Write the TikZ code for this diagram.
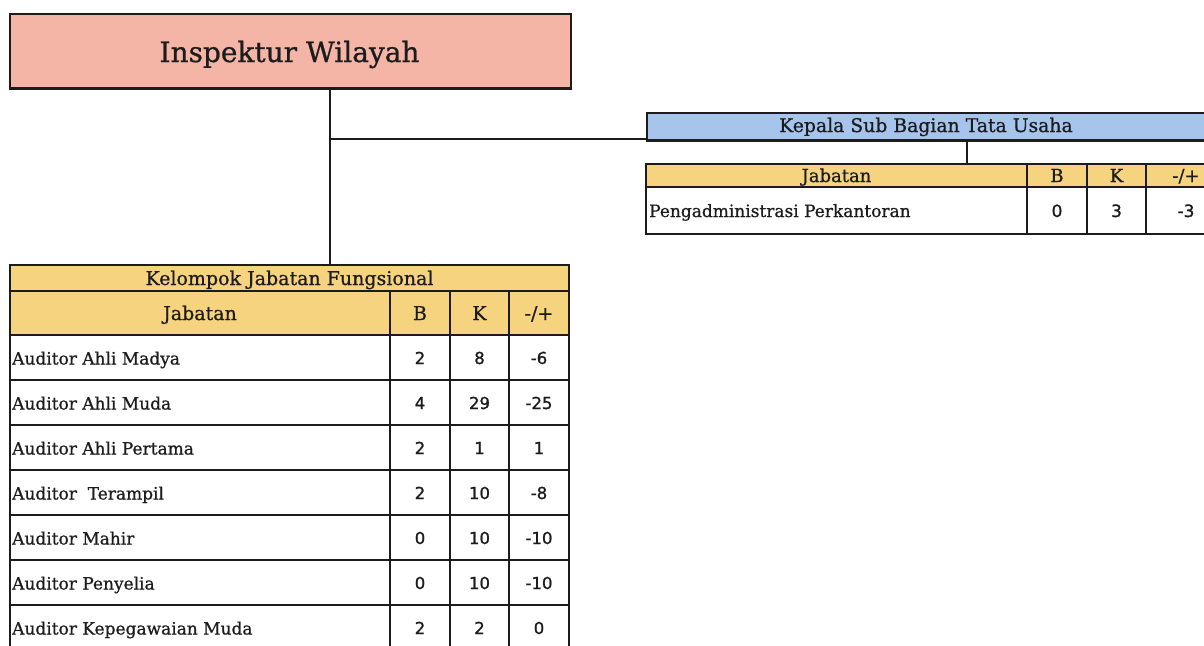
\documentclass[tikz,border=0pt]{standalone}
\usepackage{fontspec}
\setmainfont[FakeBold=0.8]{DejaVu Serif}
\newfontfamily\numfont[FakeBold=1.1]{DejaVu Sans}
\definecolor{salmon}{HTML}{F4B5A7}
\definecolor{skyblue}{HTML}{A6C4EC}
\definecolor{gold}{HTML}{F6D47F}
\definecolor{ink}{HTML}{1C1C1C}
\begin{document}
\begin{tikzpicture}[x=1pt,y=-1pt,
  rule/.style={draw=ink,line width=1.6pt},
  link/.style={draw=ink,line width=1.4pt},
  headbox/.style={rule,inner sep=0pt,anchor=north west},
  cell/.style={inner sep=0pt,text=ink,anchor=base},
  lbl/.style={cell,anchor=base west,font=\fontsize{17}{19}\selectfont},
  num/.style={cell,font=\numfont\fontsize{16.5}{18}\selectfont},
  hdr/.style={cell,font=\fontsize{19}{21}\selectfont},
  khdr/.style={cell,font=\fontsize{18}{20}\selectfont},
  klbl/.style={cell,anchor=base west,font=\fontsize{17}{19}\selectfont},
  knum/.style={cell,font=\numfont\fontsize{17}{19}\selectfont},
]
\useasboundingbox (0,0) rectangle (1204,645);
\clip (0,0) rectangle (1204,645);
\fill[white] (0,0) rectangle (1204,645);

% ---- head of office ----
\node[headbox,fill=salmon,minimum width=561pt,minimum height=74pt] (insp) at (9,13) {};
\draw[ink,line width=2.8pt] (insp.south west) -- (insp.south east);
\node[cell,font=\fontsize{28}{32}\selectfont] (inspt) at (289.5,62) {Inspektur Wilayah};

% ---- administrative sub-division ----
\node[headbox,fill=skyblue,minimum width=580pt,minimum height=27pt] (kasub) at (646,112) {};
\draw[ink,line width=2.6pt] (kasub.south west) -- (kasub.south east);
\node[cell,font=\fontsize{18.8}{21}\selectfont] (kasubt) at (926,132) {Kepala Sub Bagian Tata Usaha};

% table of the sub-division
\fill[gold] (646,164) rectangle (1226,187);
\draw[rule] (646,164) rectangle (1226,234);
\draw[rule] (646,187) -- (1226,187);
\foreach \c in {1027,1087,1146} \draw[rule] (\c,164) -- (\c,234);
\coordinate (ktab) at (967,164);
\node[khdr] (kh1) at (836.5,182) {Jabatan};
\node[khdr] (kh2) at (1057,182) {B};
\node[khdr] (kh3) at (1116.5,182) {K};
\node[khdr] (kh4) at (1186,182) {-/+};
\node[klbl] (kr1) at (649,217) {Pengadministrasi Perkantoran};
\node[knum] (kr2) at (1057,217) {0};
\node[knum] (kr3) at (1116.5,217) {3};
\node[knum] (kr4) at (1186,217) {-3};

% ---- functional positions table ----
\fill[gold] (10,265) rectangle (569,335);
\draw[rule] (10,265) rectangle (569,650);
\draw[rule] (10,291) -- (569,291);
\draw[rule] (10,335) -- (569,335);
\foreach \c in {390,450,509} \draw[rule] (\c,291) -- (\c,650);
\foreach \k in {1,...,6} \draw[rule] (10,335+45*\k) -- (569,335+45*\k);
\coordinate (ftab) at (330,265);
\node[hdr] (fh0) at (289.5,285) {Kelompok Jabatan Fungsional};
\node[hdr] (fh1) at (200,320) {Jabatan};
\node[hdr] (fh2) at (420,320) {B};
\node[hdr] (fh3) at (479.5,320) {K};
\node[hdr] (fh4) at (539,320) {-/+};

\foreach \name/\b/\kk/\d [count=\i] in {
  Auditor Ahli Madya/2/8/-6,
  Auditor Ahli Muda/4/29/-25,
  Auditor Ahli Pertama/2/1/1,
  Auditor\ \ Terampil/2/10/-8,
  Auditor Mahir/0/10/-10,
  Auditor Penyelia/0/10/-10,
  Auditor Kepegawaian Muda/2/2/0} {
  \pgfmathsetmacro\yy{335+45*(\i-0.5)}
  \node[lbl] (fr\i) at (12,\yy+7) {\name};
  \node[num] (fb\i) at (420,\yy+6.5) {\b};
  \node[num] (fk\i) at (479.5,\yy+6.5) {\kk};
  \node[num] (fd\i) at (539,\yy+6.5) {\d};
}

% ---- connectors ----
\coordinate (trunk) at (330,87);
\coordinate (branch) at (330,139);
\coordinate (kdrop) at (967,139);
\draw[link] (trunk) -- (ftab);
\draw[link] (branch) -- (kasub.west |- branch);
\draw[link] (kdrop) -- (ktab);
\end{tikzpicture}
\end{document}
